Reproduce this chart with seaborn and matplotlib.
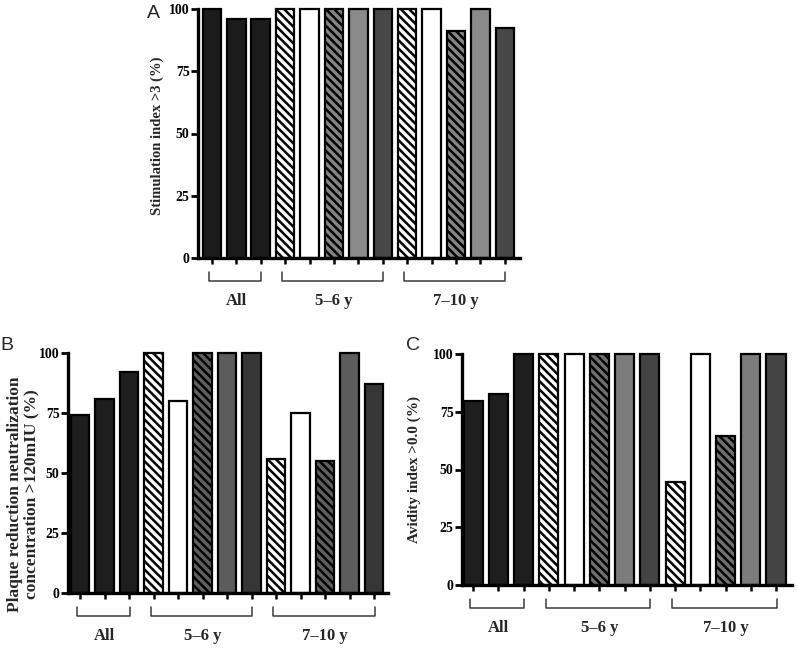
import matplotlib
matplotlib.use("Agg")
import numpy as np
import pandas as pd
import matplotlib.pyplot as plt
import seaborn as sns

# ---- data ----
GROUPS = ["All", "5–6 y", "7–10 y"]
GROUP_SIZES = [3, 5, 5]
BAR_IDS = ["all_1", "all_2", "all_3",
           "y56_1", "y56_2", "y56_3", "y56_4", "y56_5",
           "y710_1", "y710_2", "y710_3", "y710_4", "y710_5"]
STIM_INDEX = [100, 96, 96, 100, 100, 100, 100, 100, 100, 100, 91, 100, 92.5]
PRNT = [74, 81, 92, 100, 80, 100, 100, 100, 56, 75, 55, 100, 87]
AVIDITY = [79.5, 82.5, 100, 100, 100, 100, 100, 100, 44.5, 100, 64.5, 100, 100]
Y_TICKS = [0, 25, 50, 75, 100]

FIG_W, FIG_H = 797, 648

sns.set_style("ticks")
plt.rcParams["font.family"] = ["Liberation Serif", "DejaVu Serif"]
plt.rcParams["hatch.linewidth"] = 1.8

HATCH = "\\" * 4
HATCHES = [None] * 3 + [HATCH, None, HATCH, None, None] * 2


def fills(black, hatch_gray, gray, dark):
    return [black] * 3 + ["white", "white", hatch_gray, gray, dark] * 2


def px_axes(left, top, right, bottom):
    """Axes box from pixel edges of the reference."""
    return [left / FIG_W, 1 - bottom / FIG_H, (right - left) / FIG_W, (bottom - top) / FIG_H]


def draw_panel(ax, values, palette, ylabel, ylabel_size, label_dx, label_y, xlim):
    df = pd.DataFrame({"bar": BAR_IDS, "value": values})
    sns.barplot(data=df, x="bar", y="value", hue="bar", order=BAR_IDS,
                hue_order=BAR_IDS, palette=palette, saturation=1, width=0.76,
                dodge=False, legend=False, edgecolor="black", linewidth=1.6, ax=ax)
    for patch, h in zip(ax.patches, HATCHES):
        if h:
            patch.set_hatch(h)
        patch.set_clip_on(False)

    ax.set_ylim(0, 100)
    ax.set_xlim(*xlim)
    ax.set_yticks(Y_TICKS, labels=[str(t) for t in Y_TICKS], fontweight="bold", fontsize=10)
    ax.set_xticks(range(len(BAR_IDS)), labels=[])
    ax.set_xlabel("")
    ax.set_ylabel(ylabel, fontsize=ylabel_size, fontweight="bold", linespacing=1.0)
    ax.yaxis.set_label_coords(label_dx / ax.bbox.width, label_y)
    ax.tick_params(axis="y", length=5, width=2, pad=1, colors="black")
    ax.tick_params(axis="x", length=4.5, width=1.8, colors="black")
    sns.despine(ax=ax)
    for s in ["left", "bottom"]:
        ax.spines[s].set_linewidth(2.4)
        ax.spines[s].set_color("black")

    # group brackets and labels under the axis
    h = ax.bbox.height
    trans = ax.get_xaxis_transform()
    start = 0
    for name, n in zip(GROUPS, GROUP_SIZES):
        x0, x1 = start - 0.12, start + n - 1 + 0.02
        yb, ye = -23 / h, -14 / h
        ax.plot([x0, x0, x1, x1], [ye, yb, yb, ye], transform=trans,
                clip_on=False, color="#3a3a3a", lw=1.1)
        ax.text(start + (n - 1) / 2, -43 / h, name, transform=trans,
                ha="center", va="center", fontsize=12, fontweight="bold")
        start += n


fig = plt.figure(figsize=(FIG_W / 100, FIG_H / 100), dpi=100)
ax_a = fig.add_axes(px_axes(198, 9, 520, 258))
ax_b = fig.add_axes(px_axes(68, 353, 388, 593))
ax_c = fig.add_axes(px_axes(462, 354, 792, 585))

draw_panel(ax_a, STIM_INDEX, fills("#1b1b1b", "#858585", "#8a8a8a", "#474747"),
           "Stimulation index >3 (%)", 10.5, -34, 0.49, (-0.57, 12.62))
draw_panel(ax_b, PRNT, fills("#1e1e1e", "#606060", "#5c5c5c", "#363636"),
           "Plaque reduction neutralization\nconcentration >120mIU (%)", 12.5,
           -29, 0.41, (-0.49, 12.57))
draw_panel(ax_c, AVIDITY, fills("#1e1e1e", "#707070", "#7c7c7c", "#444444"),
           "Avidity index >0.0 (%)", 11, -41, 0.5, (-0.44, 12.63))

for letter, x, y in [("A", 153, 14), ("B", 7, 345), ("C", 413, 345)]:
    fig.text(x / FIG_W, 1 - y / FIG_H, letter, fontsize=14, family="Liberation Sans",
             ha="center", va="center")

fig.savefig("out.png", dpi=100)
